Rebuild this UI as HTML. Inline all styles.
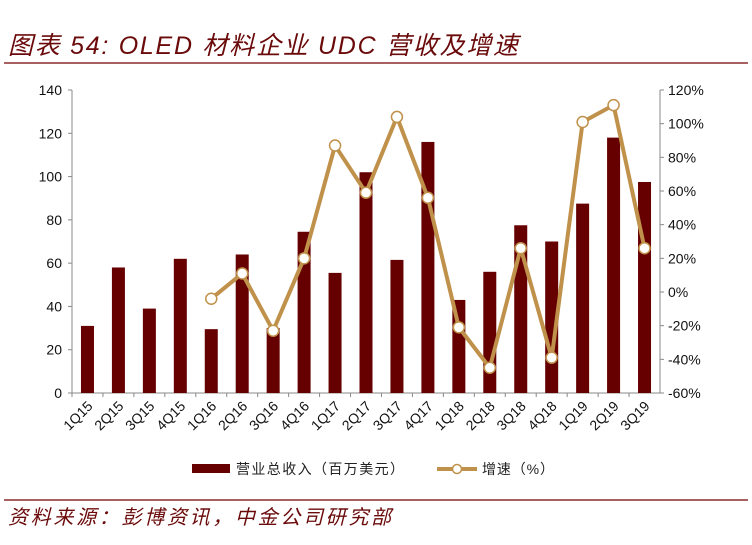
<!DOCTYPE html>
<html><head><meta charset="utf-8"><style>
body{margin:0;background:#fff;}
svg{display:block;font-family:"Liberation Sans","Noto Sans CJK SC",sans-serif;}
</style></head><body>
<svg id="c" width="752" height="545" viewBox="0 0 752 545">
<text x="8" y="54" font-size="25" font-style="italic" fill="#6b0a0a" textLength="510" lengthAdjust="spacing">图表 54: OLED 材料企业 UDC 营收及增速</text>
<line x1="4" y1="63" x2="748" y2="63" stroke="#8b2b2b" stroke-width="1.5"/>
<line x1="4" y1="500" x2="748" y2="500" stroke="#8b2b2b" stroke-width="1.5"/>
<text x="8" y="524" font-size="20" font-style="italic" fill="#6b0a0a" textLength="383" lengthAdjust="spacing">资料来源：彭博资讯，中金公司研究部</text>
<g id="plot"></g>
<g>
<rect x="192" y="464" width="38" height="9" fill="#660000"/>
<text x="236" y="474" font-size="14" fill="#222" textLength="168" lengthAdjust="spacing">营业总收入（百万美元）</text>
<line x1="437" y1="469" x2="477" y2="469" stroke="#c0914a" stroke-width="4"/>
<circle cx="457" cy="469" r="4.5" fill="#fff" stroke="#c0914a" stroke-width="1.5"/>
<text x="482" y="474" font-size="14" fill="#222" textLength="72" lengthAdjust="spacing">增速（%）</text>
</g>
</svg>
<script>
const categories=["1Q15","2Q15","3Q15","4Q15","1Q16","2Q16","3Q16","4Q16","1Q17","2Q17","3Q17","4Q17","1Q18","2Q18","3Q18","4Q18","1Q19","2Q19","3Q19"];
const revenue=[31,58,39,62,29.5,64,30,74.5,55.5,102,61.5,116,43,56,77.5,70,87.5,118,97.5];
const growth=[null,null,null,null,-4,11,-23,20,87,59,104,56,-21,-45,26,-39,101,111,26];
const leftTicks=[0,20,40,60,80,100,120,140];
const rightTicks=[-60,-40,-20,0,20,40,60,80,100,120];
const NS="http://www.w3.org/2000/svg";
const g=document.getElementById('plot');
const X0=72,X1=660,Y0=393,Y1=90;
const bw=(X1-X0)/categories.length;
const xc=i=>X0+bw*(i+0.5);
const yL=v=>Y0-(v/140)*(Y0-Y1);
const yR=v=>Y0-((v+60)/180)*(Y0-Y1);
function mk(t,a){const e=document.createElementNS(NS,t);for(const k in a)e.setAttribute(k,a[k]);g.appendChild(e);return e;}
let e;
e=mk('line',{x1:X0,y1:Y1,x2:X0,y2:Y0,stroke:'#888'});


e=mk('line',{x1:X1,y1:Y1,x2:X1,y2:Y0,stroke:'#888'});


e=mk('line',{x1:X0,y1:Y0,x2:X1,y2:Y0,stroke:'#888'});


leftTicks.forEach(v=>{
 mk('line',{x1:X0-4,y1:yL(v),x2:X0,y2:yL(v),stroke:'#888'});
 e=mk('text',{x:X0-10,y:yL(v)+5,'font-size':14,'text-anchor':'end',fill:'#111'});e.textContent=v;
 
 
});
rightTicks.forEach(v=>{
 mk('line',{x1:X1,y1:yR(v),x2:X1+4,y2:yR(v),stroke:'#888'});
 e=mk('text',{x:X1+8,y:yR(v)+5,'font-size':14,fill:'#111'});e.textContent=v+'%';
 
 
});
categories.forEach((c,i)=>{
 mk('line',{x1:X0+bw*i,y1:Y0,x2:X0+bw*i,y2:Y0+4,stroke:'#888'});
 e=mk('rect',{x:xc(i)-6.5,y:yL(revenue[i]),width:13,height:Y0-yL(revenue[i]),fill:'#660000'});
 
 
 const tx=xc(i)+6,ty=Y0+14;
 e=mk('text',{x:tx,y:ty,'font-size':14,'text-anchor':'end',fill:'#111',transform:`rotate(-45 ${tx} ${ty})`});e.textContent=c;
 
 
});
const pts=[];growth.forEach((v,i)=>{if(v!==null)pts.push([xc(i),yR(v)]);});
e=mk('polyline',{points:pts.map(p=>p.join(',')).join(' '),fill:'none',stroke:'#c0914a','stroke-width':4,'stroke-linejoin':'round'});


pts.forEach(p=>{
 e=mk('circle',{cx:p[0],cy:p[1],r:5.5,fill:'#fff',stroke:'#c0914a','stroke-width':1.5});
 
 
});
</script>
</body></html>
